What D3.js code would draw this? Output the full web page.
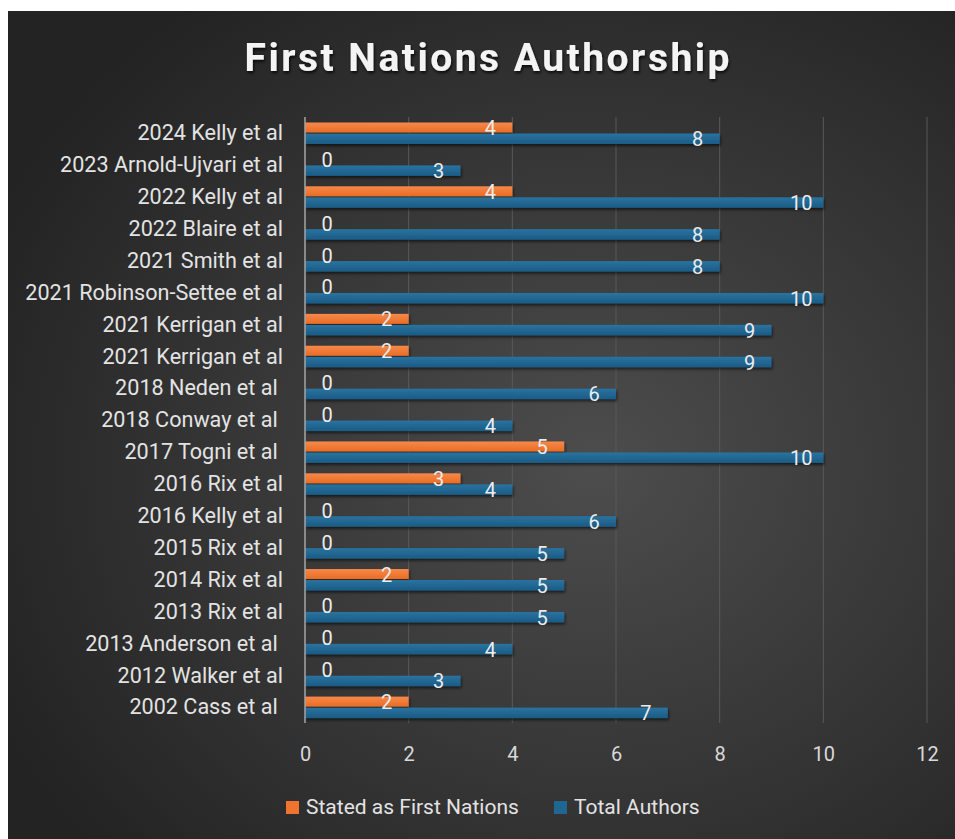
<!DOCTYPE html>
<html><head><meta charset="utf-8">
<script src="https://cdn.jsdelivr.net/npm/d3@7"></script>
<style>html,body{margin:0;padding:0;background:#fff;}svg{display:block;}text{white-space:pre;}</style>
</head><body>
<svg id="chart" width="955" height="839"></svg>
<script>
const categories = ["2024 Kelly et al","2023 Arnold-Ujvari et al","2022 Kelly et al","2022 Blaire et al","2021 Smith et al","2021 Robinson-Settee et al","2021 Kerrigan et al","2021 Kerrigan et al","2018 Neden et al ","2018 Conway et al ","2017 Togni et al ","2016 Rix et al","2016 Kelly et al","2015 Rix et al","2014 Rix et al","2013 Rix et al","2013 Anderson et al ","2012 Walker et al","2002 Cass et al "];
const firstNations = [4,0,4,0,0,0,2,2,0,0,5,3,0,0,2,0,0,0,2];
const totalAuthors = [8,3,10,8,8,10,9,9,6,4,10,4,6,5,5,5,4,3,7];
const xTicks = [0,2,4,6,8,10,12];
const seriesNames = ["Stated as First Nations","Total Authors"];

const svg = d3.select("#chart");
const defs = svg.append("defs");
const bg = defs.append("radialGradient").attr("id","bg").attr("cx","62%").attr("cy","55%").attr("r","70%");
bg.append("stop").attr("offset","0%").attr("stop-color","#4d4d4d");
bg.append("stop").attr("offset","100%").attr("stop-color","#232323");
const og = defs.append("linearGradient").attr("id","og").attr("x1",0).attr("y1",0).attr("x2",0).attr("y2",1);
og.append("stop").attr("offset","0%").attr("stop-color","#f6894a");
og.append("stop").attr("offset","100%").attr("stop-color","#e96c25");
const bgr = defs.append("linearGradient").attr("id","bgr").attr("x1",0).attr("y1",0).attr("x2",0).attr("y2",1);
bgr.append("stop").attr("offset","0%").attr("stop-color","#2a73a0");
bgr.append("stop").attr("offset","100%").attr("stop-color","#1a5b85");
const sh = defs.append("filter").attr("id","sh").attr("x","-5%").attr("y","-50%").attr("width","110%").attr("height","250%");
sh.append("feDropShadow").attr("dx",1).attr("dy",2).attr("stdDeviation",1.5).attr("flood-color","#000").attr("flood-opacity",0.6);
const tsh = defs.append("filter").attr("id","tsh").attr("x","-5%").attr("y","-20%").attr("width","110%").attr("height","150%");
tsh.append("feDropShadow").attr("dx",1).attr("dy",2).attr("stdDeviation",1.5).attr("flood-color","#000").attr("flood-opacity",0.8);

svg.append("rect").attr("x",8).attr("y",11).attr("width",947).attr("height",828).attr("fill","url(#bg)");

const x = d3.scaleLinear().domain([0,12]).range([305,927]);
const y = d3.scaleBand().domain(d3.range(categories.length)).range([117,723]);

// gridlines
svg.append("g").selectAll("line").data(xTicks.slice(1)).join("line")
  .attr("x1",d=>x(d)).attr("x2",d=>x(d)).attr("y1",117).attr("y2",723)
  .attr("stroke","#595959").attr("stroke-width",1);

// x tick labels via axis
const xAxis = svg.append("g").attr("transform","translate(0,723)")
  .call(d3.axisBottom(x).tickValues(xTicks).tickSize(0).tickPadding(24));
xAxis.select(".domain").remove();
xAxis.selectAll("text").attr("fill","#d9d9d9").style("font-family","Roboto, sans-serif").style("font-size","20px");

// y labels via axis
const yAxis = svg.append("g").attr("transform","translate(305,0)")
  .call(d3.axisLeft(y).tickFormat(i=>categories[i]).tickSize(0).tickPadding(22));
yAxis.select(".domain").remove();
yAxis.selectAll("text").attr("fill","#e3e3e3").style("font-family","Roboto, sans-serif").style("font-size","21.6px").attr("dy","0.34em");

const oOff = 5.5, oH = 10, bOff = 16.5, bH = 10.5;

svg.append("g").selectAll("rect").data(firstNations).join("rect")
  .attr("x",x(0)).attr("y",(d,i)=>y(i)+oOff).attr("width",d=>x(d)-x(0)).attr("height",oH)
  .attr("fill","url(#og)").attr("filter","url(#sh)");
svg.append("g").selectAll("rect").data(totalAuthors).join("rect")
  .attr("x",x(0)).attr("y",(d,i)=>y(i)+bOff).attr("width",d=>x(d)-x(0)).attr("height",bH)
  .attr("fill","url(#bgr)").attr("filter","url(#sh)");

// zero axis line
svg.append("line").attr("x1",x(0)).attr("x2",x(0)).attr("y1",117).attr("y2",723)
  .attr("stroke","#a6a6a6").attr("stroke-width",1.5);

const lab = (d)=> d===0 ? x(0)+22 : x(d)-22;
svg.append("g").selectAll("text").data(firstNations).join("text")
  .attr("x",d=>lab(d)).attr("y",(d,i)=>y(i)+oOff+oH/2+7.5).attr("text-anchor","middle")
  .attr("fill","#ececec").style("font-family","Roboto, sans-serif").style("font-size","20px").text(d=>d);
svg.append("g").selectAll("text").data(totalAuthors).join("text")
  .attr("x",d=>lab(d)).attr("y",(d,i)=>y(i)+bOff+bH/2+7.5).attr("text-anchor","middle")
  .attr("fill","#ececec").style("font-family","Roboto, sans-serif").style("font-size","20px").text(d=>d);

// title
svg.append("text").attr("x",487).attr("y",71).attr("text-anchor","middle")
  .attr("fill","#f4f4f4").attr("filter","url(#tsh)")
  .style("font-family","Roboto, sans-serif").style("font-weight","bold").style("font-size","39px")
  .attr("textLength",485).attr("lengthAdjust","spacing").text("First Nations Authorship");

// legend
const legColors = ["#ee7430","#1f6691"];
const legX = [286,554];
const lg = svg.append("g");
seriesNames.forEach((n,i)=>{
  lg.append("rect").attr("x",legX[i]).attr("y",801).attr("width",13).attr("height",13).attr("fill",legColors[i]);
  lg.append("text").attr("x",legX[i]+20).attr("y",814).attr("fill","#e3e3e3")
    .style("font-family","Roboto, sans-serif").style("font-size","21px").text(n);
});
</script>
</body></html>
